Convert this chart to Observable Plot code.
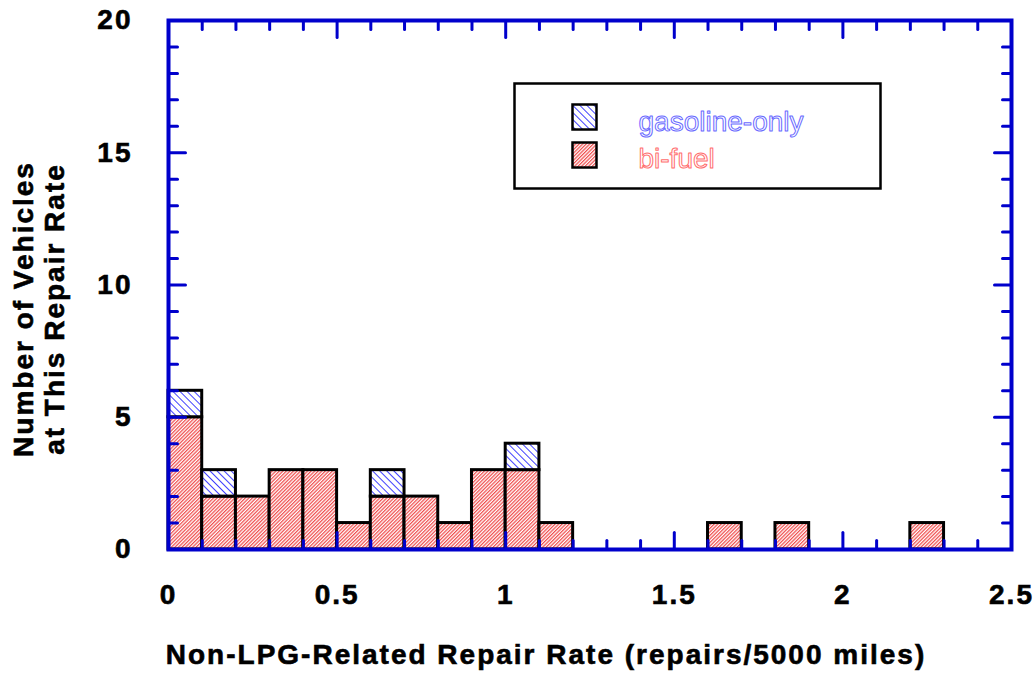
<!DOCTYPE html>
<html><head><meta charset="utf-8">
<script src="https://cdn.jsdelivr.net/npm/d3@7"></script>
<script src="https://cdn.jsdelivr.net/npm/@observablehq/plot@0.6"></script>
<style>
body{margin:0;background:#fff}
#chart{width:1034px;height:677px}
#chart g[aria-label="x-axis tick label"], #chart g[aria-label="y-axis tick label"], #chart g[aria-description="title"]{letter-spacing:2px}
#chart g[aria-label="x-axis tick label"] text, #chart g[aria-label="y-axis tick label"] text, #chart g[aria-description="title"] text{stroke:#000;stroke-width:0.6px}
</style>
</head><body><div id="chart"></div>
<script>
// Histogram bins (lower edge of each 0.1-wide bin) and counts
const binLow       = [0, 0.1, 0.2, 0.3, 0.4, 0.5, 0.6, 0.7, 0.8, 0.9, 1.0, 1.1, 1.6, 1.8, 2.2];
const biFuel       = [5, 2, 2, 3, 3, 1, 2, 2, 1, 3, 3, 1, 1, 1, 1];
const gasolineOnly = [1, 1, 0, 0, 0, 0, 1, 0, 0, 0, 1, 0, 0, 0, 0];
const binWidth = 0.1;

const xTickLabels = [0, 0.5, 1, 1.5, 2, 2.5];
const yTickLabels = [0, 5, 10, 15, 20];
const xMajorTicks = [0.5, 1, 1.5, 2];
const yMajorTicks = [5, 10, 15];
const xMinorTicks = d3.range(1, 25).map(i => i / 10).filter(v => !xMajorTicks.includes(v));
const yMinorTicks = d3.range(1, 20).filter(v => !yMajorTicks.includes(v));

const seriesNames = ["gasoline-only", "bi-fuel"];
const xTitle = "Non-LPG-Related Repair Rate (repairs/5000 miles)";
const yTitle = "Number of Vehicles\nat This Repair Rate";

const rows = binLow.map((x, i) => ({x1: x, x2: x + binWidth, bi: biFuel[i], gas: gasolineOnly[i]}));

const BLUE = "#0000cc";
const line = {draw(c, l) { c.moveTo(0, 0); c.lineTo(0, -l); }};
const tickSet = (data, acc, frameAnchor, rotate, length) =>
  Plot.vector(data, {[acc]: d => d, frameAnchor, rotate, length, anchor: "start", shape: line, stroke: BLUE, strokeWidth: 3});

const chart = Plot.plot({
  width: 1034, height: 677,
  marginLeft: 168, marginRight: 23, marginTop: 20, marginBottom: 128,
  style: {fontFamily: "'Liberation Sans', Arial, sans-serif", background: "#fff", color: "#000"},
  x: {domain: [0, 2.5]},
  y: {domain: [0, 20]},
  marks: [
    Plot.rect(rows, {x1: "x1", x2: "x2", y1: d => 0, y2: "bi", fill: "url(#hatchRed)", stroke: "#000", strokeWidth: 3}),
    Plot.rect(rows.filter(d => d.gas > 0), {x1: "x1", x2: "x2", y1: "bi", y2: d => d.bi + d.gas, fill: "url(#hatchBlue)", stroke: "#000", strokeWidth: 3}),
    Plot.frame({stroke: BLUE, strokeWidth: 4}),
    tickSet(xMinorTicks, "x", "bottom", 0, 9),
    tickSet(xMajorTicks, "x", "bottom", 0, 17),
    tickSet(xMinorTicks, "x", "top", 180, 9),
    tickSet(xMajorTicks, "x", "top", 180, 17),
    tickSet(yMinorTicks, "y", "left", 90, 9),
    tickSet(yMajorTicks, "y", "left", 90, 17),
    tickSet(yMinorTicks, "y", "right", -90, 9),
    tickSet(yMajorTicks, "y", "right", -90, 17),
    Plot.axisX({ticks: xTickLabels, tickSize: 0, tickPadding: 35, fontSize: 28, fontWeight: "bold", tickFormat: d => String(d), label: null}),
    Plot.axisY({ticks: yTickLabels, tickSize: 0, tickPadding: 36, fontSize: 28, fontWeight: "bold", tickFormat: d => String(d), label: null}),
    Plot.text([xTitle], {text: d => d, frameAnchor: "bottom", textAnchor: "middle", dx: -44, dy: 114, lineAnchor: "bottom", fontSize: 28, fontWeight: "bold", fill: "#000", ariaDescription: "title"}),
    Plot.text([yTitle], {text: d => d, frameAnchor: "left", textAnchor: "middle", rotate: -90, dx: -130, dy: 24, lineAnchor: "middle", lineHeight: 1.12, fontSize: 28, fontWeight: "bold", fill: "#000", ariaDescription: "title"}),
    // legend box and swatches
    Plot.frame({fill: "#fff", stroke: "#000", strokeWidth: 2.5, insetLeft: 346, insetRight: 131, insetTop: 63, insetBottom: 361}),
    Plot.frame({fill: "url(#hatchBlue)", stroke: "#000", strokeWidth: 2.5, insetLeft: 404, insetRight: 415, insetTop: 84, insetBottom: 420}),
    Plot.frame({fill: "url(#hatchRed)", stroke: "#000", strokeWidth: 2.5, insetLeft: 404, insetRight: 415, insetTop: 122, insetBottom: 382}),
    Plot.text([seriesNames[0]], {text: d => d, frameAnchor: "top-left", dx: 470, dy: 110, textAnchor: "start", lineAnchor: "bottom", fontSize: 28, fill: "#fff", stroke: "#6a6aff", strokeWidth: 1, paintOrder: "fill"}),
    Plot.text([seriesNames[1]], {text: d => d, frameAnchor: "top-left", dx: 470, dy: 147, textAnchor: "start", lineAnchor: "bottom", fontSize: 28, fill: "#fff", stroke: "#ff6e6e", strokeWidth: 1, paintOrder: "fill"})
  ]
});

d3.select(chart).insert("defs", ":first-child").html(`
  <pattern id="hatchRed" patternUnits="userSpaceOnUse" width="2.5" height="2.5" patternTransform="rotate(45)">
    <rect width="2.5" height="2.5" fill="#fff"/><rect width="1.25" height="2.5" fill="#f05050"/>
  </pattern>
  <pattern id="hatchBlue" patternUnits="userSpaceOnUse" width="5" height="5" patternTransform="rotate(-45)">
    <rect width="5" height="5" fill="#fff"/><rect width="1" height="5" fill="#4040ff"/>
  </pattern>`);

document.getElementById("chart").appendChild(chart);
</script>
</body></html>
